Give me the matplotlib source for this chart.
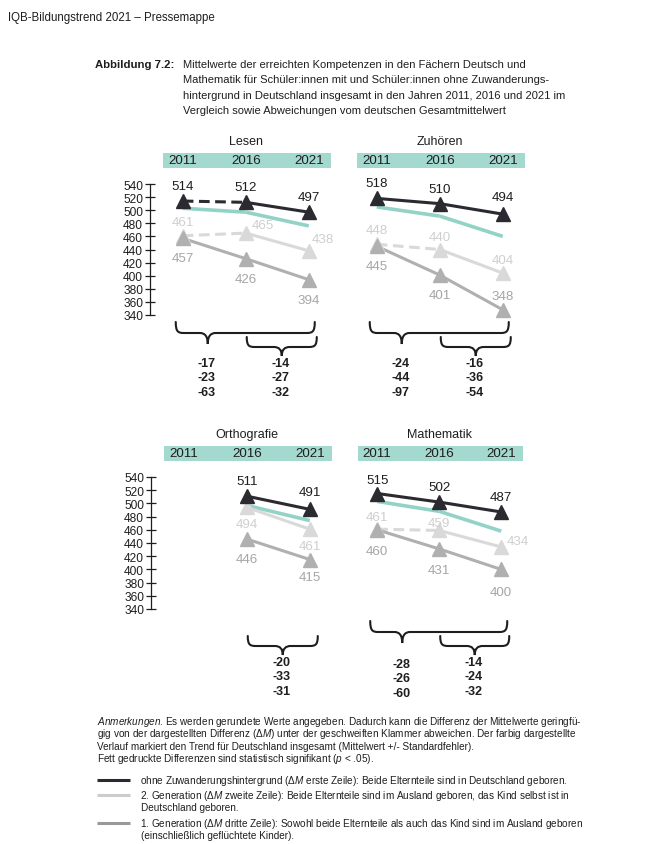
import matplotlib
matplotlib.use('Agg')
import matplotlib.pyplot as plt
import matplotlib.transforms as mtransforms
from matplotlib import font_manager
from matplotlib.path import Path
from matplotlib.patches import PathPatch, Rectangle
import numpy as np

# ---- data ----
years = ['2011', '2016', '2021']

lesen_ohne = [514, 512, 497]
lesen_gen2 = [461, 465, 438]
lesen_gen1 = [457, 426, 394]
lesen_de = [503, 497, 476]
lesen_diff_2011 = ['-17', '-23', '-63']
lesen_diff_2016 = ['-14', '-27', '-32']

zuhoeren_ohne = [518, 510, 494]
zuhoeren_gen2 = [448, 440, 404]
zuhoeren_gen1 = [445, 401, 348]
zuhoeren_de = [505, 491, 460]
zuhoeren_diff_2011 = ['-24', '-44', '-97']
zuhoeren_diff_2016 = ['-16', '-36', '-54']

ortho_ohne = [np.nan, 511, 491]
ortho_gen2 = [np.nan, 494, 461]
ortho_gen1 = [np.nan, 446, 415]
ortho_de = [np.nan, 497, 474]
ortho_diff_2016 = ['-20', '-33', '-31']

mathe_ohne = [515, 502, 487]
mathe_gen2 = [461, 459, 434]
mathe_gen1 = [460, 431, 400]
mathe_de = [503, 488, 458]
mathe_diff_2011 = ['-28', '-26', '-60']
mathe_diff_2016 = ['-14', '-24', '-32']

yticks = list(range(340, 541, 20))


def has_font(name):
    try:
        font_manager.findfont(font_manager.FontProperties(family=name),
                              fallback_to_default=False)
        return True
    except Exception:
        return False


SANS = 'Liberation Sans' if has_font('Liberation Sans') else 'DejaVu Sans'
NARROW = 'Liberation Sans Narrow' if has_font('Liberation Sans Narrow') else SANS
plt.rcParams['font.family'] = [SANS, 'DejaVu Sans']
plt.rcParams['mathtext.fontset'] = 'custom'
plt.rcParams['mathtext.it'] = SANS + ':italic'
plt.rcParams['mathtext.rm'] = SANS

C_BLACK = '#2a2a30'
C_GEN2 = '#d9d9d9'
C_GEN1 = '#b0b0b0'
C_TEAL = '#93d3c7'
C_BAND = '#a3d9cf'
C_TXT = '#1e1e1e'
L_GEN2 = '#cfcfcf'
L_GEN1 = '#a6a6a6'

W, H = 661, 845
fig = plt.figure(figsize=(W / 100, H / 100), dpi=100)


def px_axes(left, top, width, height):
    return fig.add_axes([left / W, 1 - (top + height) / H, width / W, height / H])


def draw_panel(ax, title, ohne, gen2, gen1, de, dashed, offsets, yaxis):
    x = np.arange(3)
    ax.set_xlim(-0.52, 2.48)
    ax.set_ylim(340, 540)
    ax.patch.set_visible(False)
    for s in ['top', 'right', 'bottom']:
        ax.spines[s].set_visible(False)
    ax.set_xticks([])
    if yaxis:
        ax.spines['left'].set_color(C_TXT)
        ax.spines['left'].set_linewidth(0.9)
        ax.set_yticks(yticks)
        ax.tick_params(axis='y', direction='inout', length=7, width=0.9,
                       color=C_TXT, pad=1.5, labelsize=8.6, labelcolor=C_TXT)
    else:
        ax.spines['left'].set_visible(False)
        ax.set_yticks([])

    # header band with years and title
    axh = ax.bbox.height
    bt = mtransforms.blended_transform_factory(ax.transData, ax.transAxes)
    ax.add_patch(Rectangle((-0.31, 1 + 16 / axh), 2.66, 15 / axh, transform=bt,
                           facecolor=C_BAND, edgecolor='none', clip_on=False))
    for i, yr in enumerate(years):
        ax.text(i, 1 + 23.5 / axh, yr, transform=bt, ha='center', va='center',
                fontsize=9.6, color=C_TXT)
    ax.text(1, 1 + 43 / axh, title, transform=bt, ha='center', va='center',
            fontsize=9, color=C_TXT)

    series = [('de', de, C_TEAL, 2.6, None, None),
              ('gen2', gen2, C_GEN2, 2.2, C_GEN2, L_GEN2),
              ('gen1', gen1, C_GEN1, 2.2, C_GEN1, L_GEN1),
              ('ohne', ohne, C_BLACK, 2.2, C_BLACK, C_TXT)]
    default_off = {'gen2': (0, 14), 'gen1': (0, -20), 'ohne': (0, 15)}
    for name, vals, col, lw, mcol, lcol in series:
        vals = np.asarray(vals, dtype=float)
        for k in range(2):
            if np.isnan(vals[k]) or np.isnan(vals[k + 1]):
                continue
            ls = (0, (3.5, 1.8)) if (name, k) in dashed else '-'
            ax.plot(x[k:k + 2], vals[k:k + 2], color=col, lw=lw, ls=ls,
                    solid_capstyle='butt', clip_on=False, zorder=2)
        if mcol is None:
            continue
        ax.plot(x, vals, ls='none', marker='^', ms=10, color=mcol,
                clip_on=False, zorder=3)
        for i, v in enumerate(vals):
            if np.isnan(v):
                continue
            dx, dy = offsets.get((name, i), default_off[name])
            ax.annotate(f'{int(v)}', xy=(i, v), xytext=(dx, dy),
                        textcoords='offset pixels', ha='center', va='center',
                        fontsize=9.6, color=lcol, zorder=4,
                        annotation_clip=False)


# ---- panels ----
ax_l = px_axes(150, 185, 189, 131)
ax_z = px_axes(344, 185, 189, 131)
ax_o = px_axes(151, 478, 189, 132)
ax_m = px_axes(345, 478, 186, 132)

draw_panel(ax_l, 'Lesen', lesen_ohne, lesen_gen2, lesen_gen1, lesen_de,
           dashed={('ohne', 0), ('gen2', 0)},
           offsets={('gen2', 1): (17, 8), ('gen2', 2): (14, 12)}, yaxis=True)
draw_panel(ax_z, 'Zuhören', zuhoeren_ohne, zuhoeren_gen2, zuhoeren_gen1,
           zuhoeren_de, dashed={('gen2', 0)},
           offsets={('gen2', 1): (0, 12), ('gen2', 2): (0, 13),
                    ('gen1', 2): (0, 14), ('ohne', 2): (0, 17)}, yaxis=False)
draw_panel(ax_o, 'Orthografie', ortho_ohne, ortho_gen2, ortho_gen1, ortho_de,
           dashed=set(),
           offsets={('gen2', 1): (0, -17), ('gen2', 2): (0, -17),
                    ('ohne', 2): (0, 17), ('gen1', 2): (0, -18)}, yaxis=True)
draw_panel(ax_m, 'Mathematik', mathe_ohne, mathe_gen2, mathe_gen1, mathe_de,
           dashed={('gen2', 0)},
           offsets={('gen2', 0): (0, 12), ('gen2', 1): (0, 7),
                    ('gen2', 2): (17, 6), ('gen1', 0): (0, -21),
                    ('gen1', 1): (0, -21), ('gen1', 2): (0, -23),
                    ('ohne', 0): (0, 13)}, yaxis=False)

# ---- overlay in pixel coordinates for braces and text ----
ov = fig.add_axes([0, 0, 1, 1], zorder=-1)
ov.set_xlim(0, W)
ov.set_ylim(H, 0)
ov.axis('off')


def xpx(ax, i):
    return ax.transData.transform((i, 400))[0]


def bottom_px(ax):
    return H - ax.transAxes.transform((0, 0))[1]


def brace(x0, x1, xt, ytop, h=11, d=11, r=8):
    ym = ytop + h
    verts = [(x0, ytop), (x0, ytop + h * 0.85), (x0 + r * 0.25, ym), (x0 + r, ym),
             (xt - r, ym),
             (xt - r * 0.35, ym), (xt, ym + d * 0.3), (xt, ym + d),
             (xt, ym + d * 0.3), (xt + r * 0.35, ym), (xt + r, ym),
             (x1 - r, ym),
             (x1 - r * 0.25, ym), (x1, ytop + h * 0.85), (x1, ytop)]
    codes = [Path.MOVETO, Path.CURVE4, Path.CURVE4, Path.CURVE4, Path.LINETO,
             Path.CURVE4, Path.CURVE4, Path.CURVE4,
             Path.CURVE4, Path.CURVE4, Path.CURVE4, Path.LINETO,
             Path.CURVE4, Path.CURVE4, Path.CURVE4]
    ov.add_patch(PathPatch(Path(verts, codes), facecolor='none',
                           edgecolor=C_TXT, lw=1.5, capstyle='round'))


def diff_column(xc, y0, vals):
    for k, v in enumerate(vals):
        ov.text(xc, y0 + 14.5 * k, v, ha='center', va='center', fontsize=9,
                fontweight='bold', color=C_TXT)


def braces(ax, diff_2011, diff_2016, big_top, small_top, big_num, small_num):
    b = bottom_px(ax)
    if diff_2011 is not None:
        x0, x1 = xpx(ax, 0) - 7, xpx(ax, 2) + 6
        xt = xpx(ax, 0) + 25
        brace(x0, x1, xt, b + big_top)
        diff_column(xt - 1, b + big_num, diff_2011)
    x0, x1 = xpx(ax, 1) + 1, xpx(ax, 2) + 8
    xt = (x0 + x1) / 2
    brace(x0, x1, xt, b + small_top, h=10, d=9)
    diff_column(xt - 1, b + small_num, diff_2016)


braces(ax_l, lesen_diff_2011, lesen_diff_2016, 7, 22, 48, 48)
braces(ax_z, zuhoeren_diff_2011, zuhoeren_diff_2016, 7, 22, 48, 48)
braces(ax_o, None, ortho_diff_2016, 12, 27, 55, 53)
braces(ax_m, mathe_diff_2011, mathe_diff_2016, 12, 27, 55, 53)

# ---- header and caption ----
ov.text(8, 18, 'IQB-Bildungstrend 2021 – Pressemappe', family=[NARROW, 'DejaVu Sans'],
        fontsize=8.3, color=C_TXT, va='center', ha='left')
ov.text(95, 65, 'Abbildung 7.2:', family=[NARROW, 'DejaVu Sans'], fontsize=8.2,
        fontweight='bold', color=C_TXT, va='center', ha='left')
caption = ['Mittelwerte der erreichten Kompetenzen in den Fächern Deutsch und',
           'Mathematik für Schüler:innen mit und Schüler:innen ohne Zuwanderungs-',
           'hintergrund in Deutschland insgesamt in den Jahren 2011, 2016 und 2021 im',
           'Vergleich sowie Abweichungen vom deutschen Gesamtmittelwert']
for k, line in enumerate(caption):
    ov.text(183, 65 + 15.4 * k, line, family=[NARROW, 'DejaVu Sans'], fontsize=8,
            color=C_TXT, va='center', ha='left')

# ---- notes ----
notes = [r'$\mathit{Anmerkungen}$. Es werden gerundete Werte angegeben. Dadurch kann die Differenz der Mittelwerte geringfü-',
         r'gig von der dargestellten Differenz ($\mathit{ΔM}$) unter der geschweiften Klammer abweichen. Der farbig dargestellte',
         'Verlauf markiert den Trend für Deutschland insgesamt (Mittelwert +/- Standardfehler).',
         r'Fett gedruckte Differenzen sind statistisch signifikant ($\mathit{p}$ < .05).']
for k, line in enumerate(notes):
    ov.text(97, 722 + 12.4 * k, line, fontsize=7.2, color=C_TXT, va='center', ha='left')

legend_cols = [C_BLACK, '#cccccc', '#999999']
legend_y = [781, 796, 824]
legend_txt = [[r'ohne Zuwanderungshintergrund ($\mathit{ΔM}$ erste Zeile): Beide Elternteile sind in Deutschland geboren.'],
              [r'2. Generation ($\mathit{ΔM}$ zweite Zeile): Beide Elternteile sind im Ausland geboren, das Kind selbst ist in',
               'Deutschland geboren.'],
              [r'1. Generation ($\mathit{ΔM}$ dritte Zeile): Sowohl beide Elternteile als auch das Kind sind im Ausland geboren',
               '(einschließlich geflüchtete Kinder).']]
for col, yy, lines in zip(legend_cols, legend_y, legend_txt):
    ov.plot([97, 130], [yy, yy], color=col, lw=2.2, solid_capstyle='butt')
    for k, line in enumerate(lines):
        xshift = -1.5 if '$' in line else 0
        ov.text(141 + xshift, yy + 12.2 * k, line, fontsize=7.2, color=C_TXT,
                va='center', ha='left')

fig.savefig('out.png', dpi=100)
